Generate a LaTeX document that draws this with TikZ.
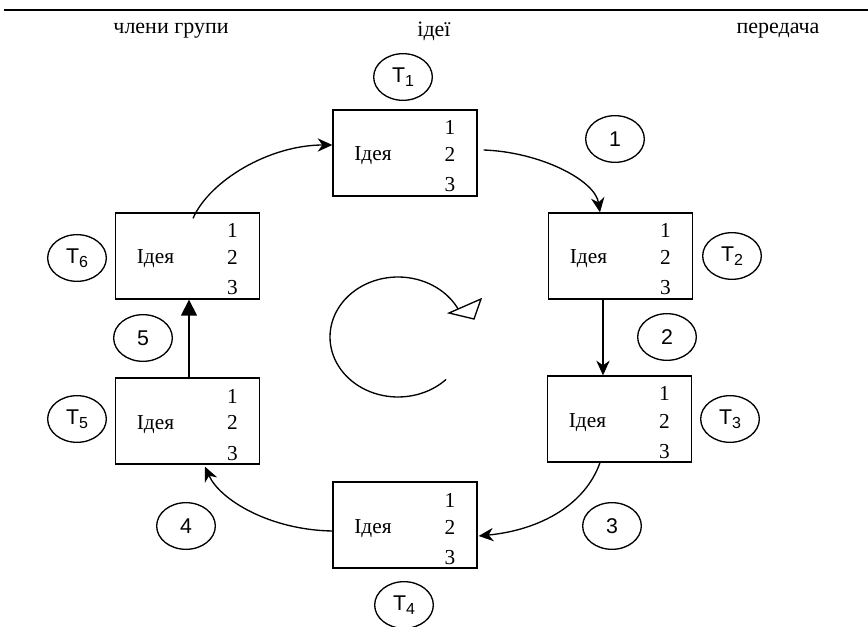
\documentclass[tikz,border=0pt]{standalone}
\usepackage{fontspec}
\setmainfont{Liberation Serif}
\newfontfamily\sansf{Liberation Sans}
\usetikzlibrary{arrows.meta,shapes.geometric}
\begin{document}
\begin{tikzpicture}[x=0.75pt,y=-0.75pt,
  box/.style={draw, line width=1pt, minimum width=108pt, minimum height=64.5pt, inner sep=0pt},
  txt/.style={font=\fontsize{16}{18}\selectfont, inner sep=0pt, anchor=base},
  head/.style={font=\fontsize{16.5}{18}\selectfont, inner sep=0pt},
  lbl/.style={draw, ellipse, minimum width=44pt, minimum height=35pt, inner sep=0pt, line width=1pt, font=\sansf\fontsize{16}{18}\selectfont},
  conn/.style={line width=1pt, -{Stealth[length=11pt,width=10pt,inset=3.5pt]}},
  sconn/.style={line width=1pt, -{Triangle[length=12pt,width=12pt]}}
]
\useasboundingbox (0,0) rectangle (868,627);
\draw[line width=1.6pt] (4,10) -- (868,10);
\node[head] (h1) at (171,31) {члени групи};
\node[head] (h2) at (434,31) {ідеї};
\node[head] (h3) at (778,31) {передача};
% boxes
\foreach \n/\x/\y in {b1/405/153, b2/620.5/256, b3/619.5/419, b4/405/525, b5/187.5/421, b6/187.5/256}{
  \node[box] (\n) at (\x,\y) {};
  \node[txt] (\n i) at ([shift={(-32,8)}]\n.center) {Ідея};
  \node[txt] (\n a) at ([shift={(45,-18)}]\n.center) {1};
  \node[txt] (\n b) at ([shift={(45,9)}]\n.center) {2};
  \node[txt] (\n c) at ([shift={(45,39)}]\n.center) {3};
}
% T labels
\foreach \n/\x/\y/\k in {t1/403/77/1, t2/732/256/2, t3/730/419/3, t4/404/605/4, t5/77/419/5, t6/77/258/6}{
  \node[lbl] (\n) at (\x,\y) {T\raisebox{-0.4ex}{\fontsize{12}{13}\selectfont \k}};
}
% numbered circles
\foreach \n/\x/\y/\k in {c1/615/139/1, c2/667/337/2, c3/612/526/3, c4/186/526/4, c5/143/338/5}{
  \node[lbl] (\n) at (\x,\y) {\k};
}
% connectors
\draw[conn] ([shift={(5.5,6)}]b6.north) .. controls (210,180) and (270,145) .. ([shift={(0,-8)}]b1.west);
\draw[conn] ([shift={(6,-3)}]b1.east) .. controls (540,152) and (595,180) .. ([shift={(-20.5,0)}]b2.north);
\draw[conn] ([shift={(-17.5,0)}]b2.south) -- ([shift={(-16.5,0)}]b3.north);
\draw[conn] ([shift={(-19.5,0)}]b3.south) .. controls (585,505) and (540,530) .. ([shift={(1,11)}]b4.east);
\draw[conn] ([shift={(0,6)}]b4.west) .. controls (270,530) and (220,500) .. ([shift={(17.5,2)}]b5.south);
\draw[sconn] ([shift={(1.5,0)}]b5.north) -- ([shift={(1.5,0)}]b6.south);
% central cycle arrow
\draw[line width=1pt] plot[domain=45:333, samples=80, smooth] ({398+68*cos(\x)},{337+60*sin(\x)});
\draw[line width=1pt, fill=white] (449,313) -- (481,299) -- (474,319) -- cycle;
\end{tikzpicture}
\end{document}
